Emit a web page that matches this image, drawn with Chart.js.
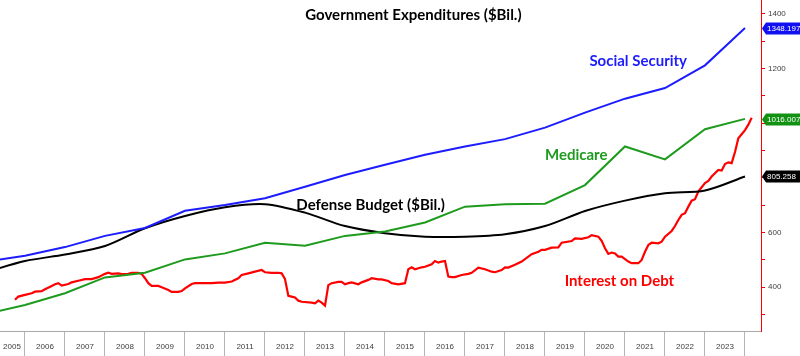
<!DOCTYPE html>
<html>
<head>
<meta charset="utf-8">
<script src="https://cdn.jsdelivr.net/npm/chart.js@4.4.1/dist/chart.umd.min.js"></script>
<style>
html,body{margin:0;padding:0;background:#fff;}
#wrap{width:800px;height:356px;position:relative;}
</style>
</head>
<body>
<div id="wrap"><canvas id="c" width="800" height="356"></canvas></div>
<script>
// ---------- DATA ----------
// annual points, plotted at the start of each year
const annualYears = [2005,2006,2007,2008,2009,2010,2011,2012,2013,2014,2015,2016,2017,2018,2019,2020,2021,2022,2023,2024];
const socialSecurity = [494,515,547,588,617,680,701,726,768,811,848,885,915,942,984,1039,1090,1129,1212,1348.197];
const medicare       = [301,335,378,436,453,502,524,563,552,588,604,637,695,704,706,774,915,868,978,1016.007];
const defense        = [454,496,520,551,616,661,693,704,673,624,598,585,585,594,624,679,717,744,754,805.258];

// monthly interest on debt
const interestMonths = ['2005-10','2005-11','2006-01','2006-03','2006-04','2006-06','2006-07','2006-09','2006-10','2006-11','2006-12',
 '2007-02','2007-03','2007-05','2007-07','2007-09','2007-11','2008-01','2008-02','2008-03','2008-05','2008-06','2008-08','2008-09',
 '2008-11','2008-12','2009-01','2009-02','2009-03','2009-05','2009-06','2009-08','2009-09','2009-11','2009-12','2010-01','2010-03',
 '2010-04','2010-05','2010-09','2010-11','2011-01','2011-03','2011-05','2011-06','2011-08','2011-10','2011-12','2012-01','2012-03',
 '2012-05','2012-06','2012-07','2012-08','2012-09','2012-10','2012-11','2012-12','2013-03','2013-04','2013-05','2013-06','2013-07',
 '2013-08','2013-09','2013-11','2013-12','2014-01','2014-02','2014-03','2014-05','2014-06','2014-08','2014-09','2014-11','2014-12',
 '2015-02','2015-03','2015-05','2015-07','2015-08','2015-09','2015-10','2015-12','2016-01','2016-03','2016-04','2016-05','2016-06',
 '2016-07','2016-08','2016-09','2016-10','2016-12','2017-02','2017-03','2017-05','2017-07','2017-09','2017-10','2017-12','2018-01',
 '2018-02','2018-04','2018-06','2018-09','2018-11','2018-12','2019-01','2019-03','2019-05','2019-06','2019-09','2019-10','2019-12',
 '2020-02','2020-03','2020-05','2020-06','2020-07','2020-08','2020-09','2020-10','2020-11','2020-12','2021-02','2021-03','2021-05',
 '2021-06','2021-07','2021-08','2021-09','2021-11','2021-12','2022-01','2022-03','2022-04','2022-05','2022-06','2022-07','2022-08',
 '2022-09','2022-10','2022-11','2022-12','2023-01','2023-02','2023-03','2023-05','2023-06','2023-07','2023-08','2023-09','2023-10',
 '2023-11','2023-12','2024-01','2024-02','2024-03'];
const interestValues = [354,366,372,378,384,386,393,405,411,415,406,
 412,418,424,430,430,437,449,453,449,451,448,449,453,
 453,449,433,415,405,405,400,390,383,383,386,396,412,
 415,415,415,417,417,421,433,445,451,457,463,455,453,
 453,451,430,369,366,363,351,347,344,341,351,344,333,
 408,415,420,420,411,415,418,411,418,427,433,429,429,
 423,415,411,415,466,473,466,473,475,484,496,490,494,
 496,439,437,437,445,449,453,472,466,457,455,463,473,
 472,482,494,521,530,537,537,545,546,563,569,579,577,
 583,591,585,570,543,522,527,524,512,512,494,488,488,
 500,530,555,563,561,567,585,606,624,646,665,671,695,
 717,722,750,766,781,789,805,829,827,851,857,854,895,
 945,960,975,995,1020];

const xLabelYears = [2005,2006,2007,2008,2009,2010,2011,2012,2013,2014,2015,2016,2017,2018,2019,2020,2021,2022,2023];
const yTickStep = 100;      // minor tick step
const yLabelStep = 200;     // labelled ticks
const titleText = 'Government Expenditures ($Bil.)';

// ---------- helpers ----------
const pts = (xs, ys) => xs.map((x, i) => ({x: x, y: ys[i]}));
const monthToYear = s => { const [y, m] = s.split('-').map(Number); return y + (m - 1) / 12; };

const BLUE = '#1c1cff', GREEN = '#1e9b1e', RED = '#ff0000', BLACK = '#000000';

const seriesLabels = [
  {text: titleText,                x: 2015.71, y: 1395, color: BLACK},
  {text: 'Social Security',        x: 2021.33, y: 1228, color: BLUE},
  {text: 'Medicare',               x: 2019.78, y: 884,  color: GREEN},
  {text: 'Defense Budget ($Bil.)', x: 2014.64, y: 701,  color: BLACK},
  {text: 'Interest on Debt',       x: 2020.86, y: 421,  color: RED}
];
const lastValueBoxes = [
  {data: socialSecurity, color: '#1010f0'},
  {data: medicare,       color: '#129212'},
  {data: defense,        color: '#000000'}
];

const textPlugin = {
  id: 'texts',
  afterDatasetsDraw(chart) {
    const {ctx, scales: {x, y}} = chart;
    ctx.save();
    ctx.font = 'bold 15px Lato, "Open Sans", sans-serif';
    ctx.textAlign = 'center';
    ctx.textBaseline = 'middle';
    seriesLabels.forEach(l => {
      ctx.fillStyle = l.color;
      ctx.fillText(l.text, x.getPixelForValue(l.x), y.getPixelForValue(l.y));
    });
    ctx.restore();
  },
  afterDraw(chart) {
    const {ctx, chartArea, scales: {y}} = chart;
    ctx.save();
    ctx.font = '8px "Liberation Sans", Arial, sans-serif';
    ctx.textBaseline = 'middle';
    ctx.textAlign = 'left';
    const xr = chartArea.right;
    lastValueBoxes.forEach(b => {
      const v = b.data[b.data.length - 1];
      const yc = Math.round(y.getPixelForValue(v)) + 0.5;
      ctx.beginPath();
      ctx.moveTo(xr + 1, yc);
      ctx.lineTo(xr + 5, yc - 6);
      ctx.lineTo(chart.width, yc - 6);
      ctx.lineTo(chart.width, yc + 6);
      ctx.lineTo(xr + 5, yc + 6);
      ctx.closePath();
      ctx.fillStyle = b.color;
      ctx.fill();
      ctx.fillStyle = '#ffffff';
      ctx.fillText(v.toFixed(3), xr + 6, yc + 0.5);
    });
    ctx.restore();
  }
};

const xMin = 2005.375, xMax = 2024.4;

new Chart(document.getElementById('c'), {
  type: 'line',
  data: {
    datasets: [
      {data: pts(annualYears, socialSecurity), borderColor: BLUE,  borderWidth: 2, pointRadius: 0, tension: 0},
      {data: pts(annualYears, medicare),       borderColor: GREEN, borderWidth: 2, pointRadius: 0, tension: 0},
      {data: pts(annualYears, defense),        borderColor: BLACK, borderWidth: 2, pointRadius: 0, tension: 0.3},
      {data: pts(interestMonths.map(monthToYear), interestValues), borderColor: RED, borderWidth: 2.2, pointRadius: 0, tension: 0}
    ]
  },
  options: {
    responsive: false,
    animation: false,
    devicePixelRatio: 1,
    layout: {padding: 0},
    plugins: {legend: {display: false}, tooltip: {enabled: false}, title: {display: false}},
    scales: {
      x: {
        type: 'linear',
        position: 'bottom',
        min: xMin,
        max: xMax,
        afterBuildTicks(axis) {
          axis.ticks = xLabelYears.map((yr, i) => ({value: i === 0 ? Math.max(yr, xMin - 0.2) : yr}))
            .concat([{value: xLabelYears[xLabelYears.length - 1] + 1}]);
        },
        afterFit(axis) { axis.height = 25; axis.paddingLeft = 0; axis.paddingRight = 0; },
        grid: {
          drawOnChartArea: false,
          drawTicks: true,
          tickLength: 25,
          color: ctx => (ctx.index === 0 ? 'rgba(0,0,0,0)' : '#b4b4b4'),
          lineWidth: 1
        },
        border: {display: true, color: '#a8a8a8', width: 1},
        ticks: {
          autoSkip: false,
          maxRotation: 0,
          minRotation: 0,
          labelOffset: 20,
          padding: -14,
          color: '#404040',
          font: {family: '"Liberation Sans", Arial, sans-serif', size: 8},
          callback: (v, i) => (i < xLabelYears.length ? String(xLabelYears[i]) : '')
        }
      },
      y: {
        type: 'linear',
        position: 'right',
        min: 240,
        max: 1451,
        afterFit(axis) { axis.width = 39; axis.paddingTop = 0; axis.paddingBottom = 0; },
        grid: {drawOnChartArea: false, drawTicks: true, tickLength: 4, color: RED},
        border: {display: true, color: RED, width: 1},
        ticks: {
          stepSize: yTickStep,
          includeBounds: false,
          padding: 3,
          color: '#404040',
          font: {family: '"Liberation Sans", Arial, sans-serif', size: 8},
          callback: v => (v % yLabelStep === 0 ? String(v) : '')
        }
      }
    }
  },
  plugins: [textPlugin]
});
</script>
</body>
</html>
